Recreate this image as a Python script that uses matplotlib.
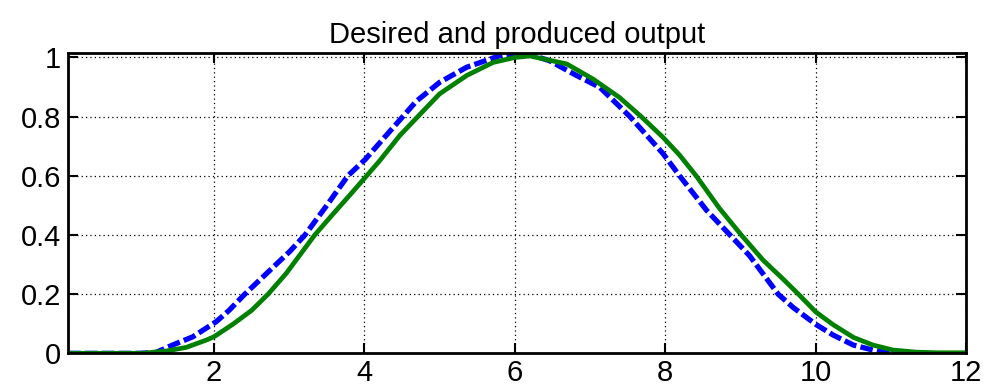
import matplotlib

matplotlib.use("Agg")
import matplotlib.pyplot as plt

# desired output (blue dashed)
desired_x = [0.06, 0.6, 1.0, 1.23, 1.45, 1.72, 2.03, 2.2, 2.41, 2.70, 3.01, 3.21,
             3.50, 3.78, 4.01, 4.25, 4.51, 4.69, 5.0, 5.36, 5.80, 6.2, 6.46, 6.82,
             7.13, 7.53, 7.97, 8.19, 8.55, 8.86, 9.12, 9.50, 9.70, 10.0, 10.23,
             10.50, 10.76, 10.98, 11.5, 12.0]
desired_y = [0.0, 0.0, 0.0, 0.003, 0.028, 0.056, 0.107, 0.145, 0.2, 0.27, 0.345, 0.4,
             0.5, 0.6, 0.655, 0.725, 0.8, 0.852, 0.916, 0.967, 1.006, 1.01, 0.989, 0.939,
             0.899, 0.8, 0.675, 0.6, 0.483, 0.4, 0.33, 0.2, 0.155, 0.098, 0.062,
             0.028, 0.011, 0.0, -0.003, -0.003]

# produced output (green solid)
produced_x = [0.06, 1.05, 1.37, 1.63, 1.90, 2.0, 2.25, 2.50, 2.72, 2.96, 3.34, 3.58,
              3.80, 4.03, 4.20, 4.47, 4.71, 5.0, 5.36, 5.71, 6.0, 6.2, 6.69, 7.04,
              7.39, 7.68, 7.97, 8.19, 8.41, 8.72, 9.01, 9.30, 9.57, 9.77, 10.0, 10.23,
              10.50, 10.76, 11.03, 11.34, 11.6, 12.0]
produced_y = [0.0, 0.0, 0.008, 0.02, 0.045, 0.056, 0.098, 0.145, 0.2, 0.27, 0.4, 0.47,
              0.533, 0.6, 0.65, 0.736, 0.8, 0.877, 0.939, 0.983, 1.0, 1.005, 0.978, 0.927,
              0.865, 0.8, 0.73, 0.67, 0.6, 0.49, 0.4, 0.315, 0.25, 0.2, 0.14, 0.097,
              0.054, 0.028, 0.011, 0.004, 0.002, 0.002]

x_ticks = [2, 4, 6, 8, 10, 12]
y_ticks = [0, 0.2, 0.4, 0.6, 0.8, 1]
y_tick_labels = ["0", "0.2", "0.4", "0.6", "0.8", "1"]

plt.rcParams["font.family"] = ["Liberation Sans", "DejaVu Sans"]

fig = plt.figure(figsize=(9.93, 3.87), dpi=100)
ax = fig.add_axes([0.0685, 0.087, 0.9045, 0.776])

ax.plot(desired_x, desired_y, color="#0000ff", linewidth=3.8,
        linestyle=(0, (2.4, 0.8)), solid_joinstyle="round")
ax.plot(produced_x, produced_y, color="#008000", linewidth=3.4,
        solid_joinstyle="round")

ax.set_xlim(0.06, 12)
ax.set_ylim(0, 1.015)
ax.set_xticks(x_ticks)
ax.set_xticklabels([str(t) for t in x_ticks])
ax.set_yticks(y_ticks)
ax.set_yticklabels(y_tick_labels)

ax.grid(True, color="black", linestyle=(0, (1, 2.5)), linewidth=0.9)
ax.tick_params(direction="in", length=7, width=1.5, labelsize=21,
               top=True, right=True)
ax.tick_params(axis="x", pad=4)
ax.tick_params(axis="y", pad=5)
for s in ax.spines.values():
    s.set_linewidth(2.0)

ax.set_title("Desired and produced output", fontsize=21, pad=7)

fig.savefig("out.png", dpi=100)
plt.close(fig)
